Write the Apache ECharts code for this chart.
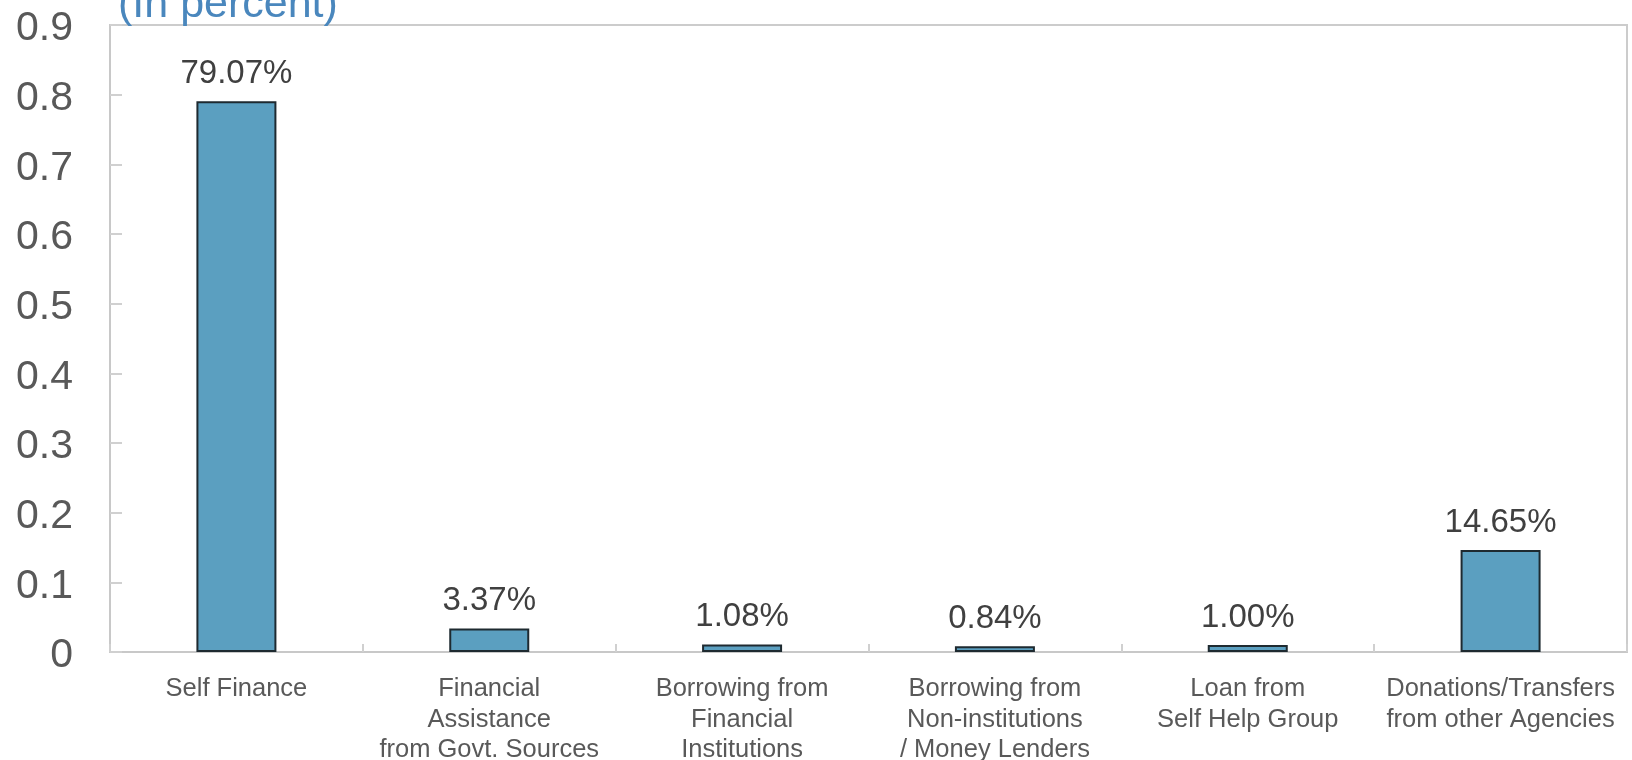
<!DOCTYPE html>
<html>
<head>
<meta charset="utf-8">
<script src="https://cdn.jsdelivr.net/npm/echarts@6/dist/echarts.min.js"></script>
<style>
html,body{margin:0;padding:0;background:#fff;}
#chart{width:1632px;height:760px;}
</style>
</head>
<body>
<div id="chart"></div>
<script>
var categories = [
  "Self Finance",
  "Financial\nAssistance\nfrom Govt. Sources",
  "Borrowing from\nFinancial\nInstitutions",
  "Borrowing from\nNon-institutions\n/ Money Lenders",
  "Loan from\nSelf Help Group",
  "Donations/Transfers\nfrom other Agencies"
];
var shares = [0.7907, 0.0337, 0.0108, 0.0084, 0.0100, 0.1465];
var valueLabels = ["79.07%", "3.37%", "1.08%", "0.84%", "1.00%", "14.65%"];
var yTicks = [0, 0.1, 0.2, 0.3, 0.4, 0.5, 0.6, 0.7, 0.8, 0.9];
var titleText = "(In percent)";

var chart = echarts.init(document.getElementById('chart'));
var font = "'Liberation Sans', Arial, sans-serif";
chart.setOption({
  animation: false,
  backgroundColor: '#ffffff',
  title: {
    text: titleText,
    left: 113,
    top: -21,
    textStyle: {color: '#4a87bd', fontSize: 43, fontWeight: 'normal', fontFamily: font}
  },
  grid: {
    left: 110, right: 5, top: 25, bottom: 108,
    outerBoundsMode: 'none',
    containLabel: false,
    show: true, borderColor: '#cccccc', borderWidth: 2, backgroundColor: 'transparent'
  },
  xAxis: {
    type: 'category',
    data: categories,
    axisLine: {show: true, lineStyle: {color: '#c8c8c8', width: 2}},
    axisTick: {show: true, inside: true, length: 8, lineStyle: {color: '#d0d0d0', width: 2}},
    axisLabel: {
      margin: 22, color: '#595959', fontSize: 25.5, lineHeight: 30.5,
      fontFamily: font, interval: 0, align: 'center'
    },
    splitLine: {show: false}
  },
  yAxis: {
    type: 'value',
    min: 0, max: 0.9, interval: 0.1,
    axisLine: {show: true, lineStyle: {color: '#c8c8c8', width: 2}},
    axisTick: {show: true, inside: true, length: 12, lineStyle: {color: '#d0d0d0', width: 2}},
    axisLabel: {
      margin: 37, color: '#595959', fontSize: 41, fontFamily: font,
      verticalAlign: 'top', lineHeight: 8,
      formatter: function (v) {
        var idx = yTicks.findIndex(function (t) { return Math.abs(t - v) < 1e-9; });
        return idx >= 0 ? String(yTicks[idx]) : '';
      }
    },
    splitLine: {show: false}
  },
  series: [{
    type: 'bar',
    data: shares,
    barWidth: 80,
    itemStyle: {color: '#5b9fc0', borderColor: '#1e2a30', borderWidth: 2},
    label: {
      show: true, position: 'top', distance: 11,
      color: '#404040', fontSize: 33, fontFamily: font,
      formatter: function (p) { return valueLabels[p.dataIndex]; }
    }
  }]
});
</script>
</body>
</html>
